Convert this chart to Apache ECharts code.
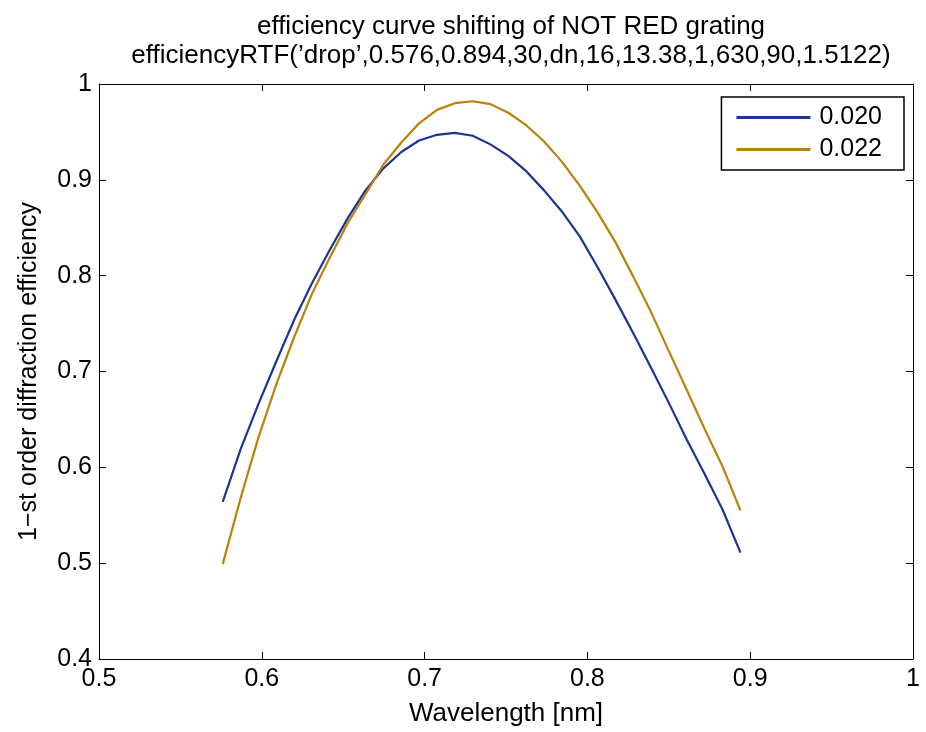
<!DOCTYPE html>
<html lang="en">
<head>
    <meta charset="UTF-8">
    <title>efficiency curve shifting</title>
    <script src="https://cdn.jsdelivr.net/npm/echarts@6.0.0/dist/echarts.min.js"></script>
</head>
<body style="margin:0;background:#fff;">
    <div id="main" style="width: 926px;height:732px;"></div>
    <script type="text/javascript">
        // wavelength grid (30 points from 0.576 to 0.894)
        const wavelengths = [0.5760, 0.5870, 0.5979, 0.6090, 0.6199, 0.6308, 0.6418, 0.6528, 0.6637, 0.6747,
            0.6857, 0.6966, 0.7076, 0.7186, 0.7295, 0.7404, 0.7514, 0.7624, 0.7734, 0.7843,
            0.7953, 0.8062, 0.8172, 0.8282, 0.8391, 0.8501, 0.8610, 0.8720, 0.8830, 0.8940];

        // dn = 0.020
        const eff020 = [0.564, 0.619, 0.666, 0.711, 0.754, 0.792, 0.827, 0.860, 0.889, 0.912,
            0.929, 0.941, 0.947, 0.949, 0.946, 0.937, 0.925, 0.909, 0.889, 0.867,
            0.841, 0.809, 0.775, 0.740, 0.704, 0.667, 0.629, 0.593, 0.556, 0.511];

        // dn = 0.022
        const eff022 = [0.499, 0.568, 0.631, 0.687, 0.736, 0.781, 0.819, 0.855, 0.885, 0.916,
            0.939, 0.959, 0.973, 0.980, 0.982, 0.979, 0.970, 0.957, 0.940, 0.919,
            0.894, 0.866, 0.835, 0.799, 0.762, 0.721, 0.681, 0.640, 0.601, 0.555];

        const seriesNames = ['0.020', '0.022'];
        const colors = ['#1c3494', '#bb8108'];

        const font = '"Liberation Sans", Arial, Helvetica, sans-serif';

        const pairs = (xs, ys) => xs.map((x, i) => [x, ys[i]]);

        // mirrored axes give the closed box with ticks on all sides
        const boxAxis = (extra) => Object.assign({
            type: 'value',
            axisLine: { show: true, lineStyle: { color: '#000', width: 1 } },
            axisTick: { show: true, inside: true, length: 7, lineStyle: { color: '#000' } },
            splitLine: { show: false },
            axisLabel: { show: false }
        }, extra);

        let options = {
            backgroundColor: '#fff',
            animation: false,
            color: colors,
            title: {
                text: 'efficiency curve shifting of NOT RED grating\nefficiencyRTF(\u2019drop\u2019,0.576,0.894,30,dn,16,13.38,1,630,90,1.5122)',
                left: 506,
                top: 7,
                textAlign: 'center',
                textStyle: { fontFamily: font, fontSize: 26, fontWeight: 'normal', color: '#000', lineHeight: 29 }
            },
            legend: {
                data: seriesNames,
                orient: 'vertical',
                right: 22,
                top: 97,
                padding: [8, 22, 8, 15],
                borderColor: '#000',
                borderWidth: 1.5,
                backgroundColor: '#fff',
                itemWidth: 74,
                itemHeight: 3,
                itemGap: 7,
                icon: 'rect',
                textStyle: { fontFamily: font, fontSize: 25, color: '#000', padding: [0, 0, 0, 4] }
            },
            grid: { left: 99, right: 13, top: 84, bottom: 72, containLabel: false },
            xAxis: [
                boxAxis({
                    min: 0.5, max: 1, interval: 0.1,
                    name: 'Wavelength [nm]',
                    nameLocation: 'middle',
                    nameGap: 42,
                    nameTextStyle: { fontFamily: font, fontSize: 26, color: '#000' },
                    axisLabel: { show: true, fontFamily: font, fontSize: 25, color: '#000', margin: 8 }
                }),
                boxAxis({ position: 'top', min: 0.5, max: 1, interval: 0.1 })
            ],
            yAxis: [
                boxAxis({
                    min: 0.4, max: 1, interval: 0.1,
                    name: '1\u2212st order diffraction efficiency',
                    nameLocation: 'middle',
                    nameGap: 57,
                    nameTextStyle: { fontFamily: font, fontSize: 25, color: '#000' },
                    axisLabel: { show: true, fontFamily: font, fontSize: 25, color: '#000', margin: 7 }
                }),
                boxAxis({ position: 'right', min: 0.4, max: 1, interval: 0.1 })
            ],
            series: [
                {
                    name: seriesNames[0],
                    type: 'line',
                    data: pairs(wavelengths, eff020),
                    showSymbol: false,
                    lineStyle: { width: 2.2 }
                },
                {
                    name: seriesNames[1],
                    type: 'line',
                    data: pairs(wavelengths, eff022),
                    showSymbol: false,
                    lineStyle: { width: 2.2 }
                }
            ]
        };

        let myChart = echarts.init(document.getElementById('main'));
        myChart.setOption(options);
    </script>
</body>
</html>
